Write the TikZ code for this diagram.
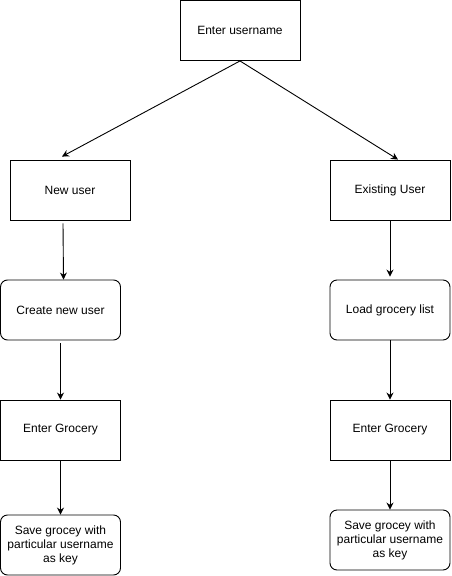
\documentclass[tikz,border=0pt]{standalone}
\usepackage{fontspec}
\setmainfont{Liberation Sans}
\usetikzlibrary{arrows.meta}

\begin{document}
\begin{tikzpicture}[
            x = 1pt, y = -1pt, % pixel grid of the drawing
            > = {Stealth[length=7pt, width=7pt]}, % arrow head style
            line width = 0.9pt % line style
        ]

        \tikzstyle{box}=[
            draw = black,
            line width = 0.9pt,
            fill = white,
            minimum width = 120pt,
            minimum height = 60pt,
            inner sep = 0pt,
            align = center,
            font = \fontsize{12}{14}\selectfont
        ]
        \tikzstyle{rbox}=[box, rounded corners = 7pt]

        \useasboundingbox (0,0) rectangle (451,576);

	\node[box] (un) at (240,30.5) {Enter username};
	\node[box] (nu) at (70,190) {New user};
	\node[box] (eu) at (390,190) {Existing User};
	\node[rbox] (cn) at (60.5,310) {Create new user};
	\node[rbox] (lg) at (390,310) {Load grocery list};
	\node[box] (eg1) at (60.5,430) {Enter Grocery};
	\node[box] (eg2) at (390,430) {Enter Grocery};
	\node[rbox] (sg1) at (60.5,545) {Save grocey with\\particular username\\as key};
	\node[rbox] (sg2) at (390,540) {Save grocey with\\particular username\\as key};

        % left branch
        \draw[->] (un.south) -- ([xshift=-8pt,yshift=3pt]nu.north);
        \draw[->] ([xshift=-7pt,yshift=-3pt]nu.south) -- ([xshift=3pt]cn.north);
        \draw[->] ([yshift=-3pt]cn.south) -- (eg1.north);
        \draw[->] (eg1.south) -- (sg1.north);

        % right branch
        \draw[->] (un.south) -- ([xshift=8pt]eu.north);
        \draw[->] (eu.south) -- ([yshift=3pt]lg.north);
        \draw[->] (lg.south) -- (eg2.north);
        \draw[->] (eg2.south) -- (sg2.north);

    \end{tikzpicture}
\end{document}
